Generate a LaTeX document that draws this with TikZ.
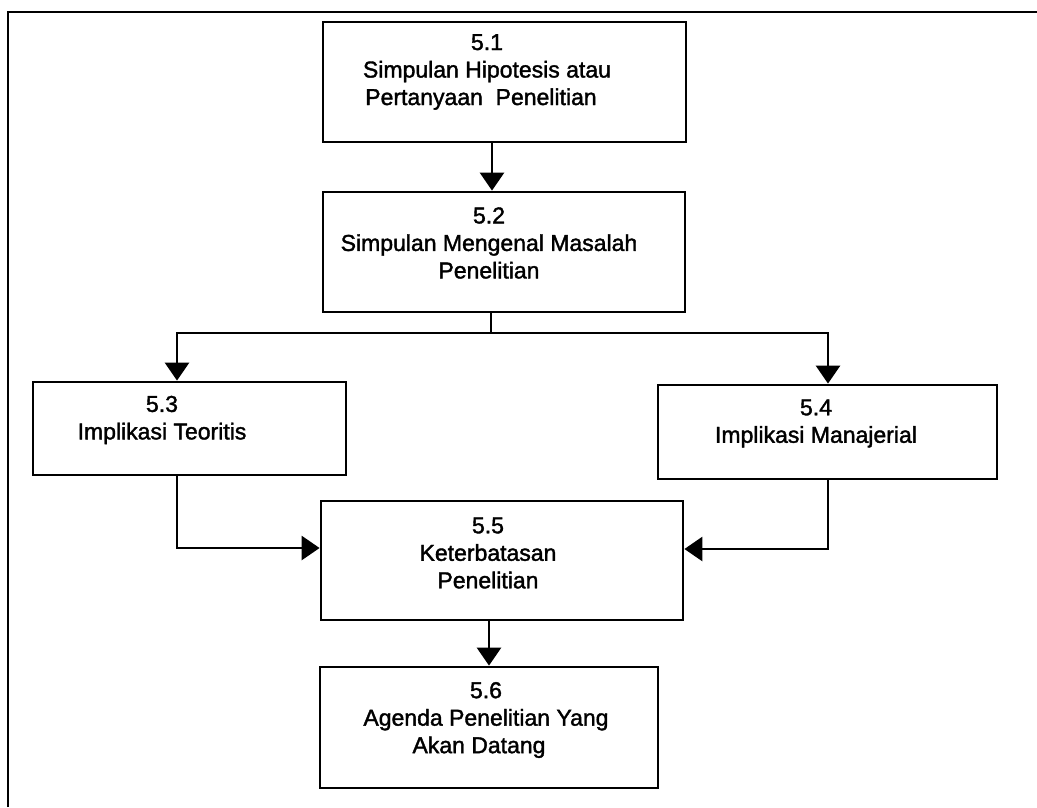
\documentclass[tikz,border=0pt]{standalone}
\usepackage{fontspec}
\setmainfont{Liberation Sans}
\newfontfamily\boxfont{Liberation Sans}[FakeBold=1.6]
\usetikzlibrary{arrows.meta}
\begin{document}
\begin{tikzpicture}[x=1pt,y=-1pt,
  box/.style={draw, line width=2.8pt, inner sep=0pt, minimum width=#1},
  lbl/.style={align=center, inner sep=0pt, font=\boxfont\fontsize{23}{27.5}\selectfont},
  arr/.style={line width=2.8pt, -{Triangle[width=24pt,length=18pt]}},
  conn/.style={line width=2.8pt}]
\useasboundingbox (0,0) rectangle (1037,807);

% frame: top rule and left rule
\draw[line width=2.8pt] (8,807) -- (8,12) -- (1037,12);

% boxes
\node[box=363, minimum height=120] (b1) at (504.5,82) {};
\node[box=362, minimum height=120] (b2) at (504,252) {};
\node[box=313, minimum height=93]  (b3) at (189.5,428.5) {};
\node[box=339, minimum height=94]  (b4) at (827.5,432) {};
\node[box=362, minimum height=119] (b5) at (502,560.5) {};
\node[box=338, minimum height=121] (b6) at (489,727.5) {};

% box texts
\node[lbl] (t1) at (487,72) {5.1\\Simpulan Hipotesis atau\\Pertanyaan\ \ Penelitian\hspace*{12pt}};
\node[lbl] (t2) at (489,243) {5.2\\Simpulan Mengenal Masalah\\Penelitian};
\node[lbl] (t3) at (162,420) {5.3\\Implikasi Teoritis};
\node[lbl] (t4) at (816,423.5) {5.4\\Implikasi Manajerial};
\node[lbl] (t5) at (488,553) {5.5\\Keterbatasan\\Penelitian};
\node[lbl] (t6) at (486,720) {5.6\\Agenda Penelitian Yang\\Akan Datang\hspace*{14pt}};

% helper coordinates for connector lines
\coordinate (x12) at (492,0);
\coordinate (split) at (491,333);
\coordinate (x3) at (177,0);
\coordinate (x4) at (828,0);
\coordinate (in3) at (0,548);
\coordinate (in4) at (0,549);
\coordinate (x56) at (489,0);

% connectors
\draw[arr] (b1.south -| x12) -- (b2.north -| x12);
\draw[conn] (b2.south -| split) -- (split);
\draw[arr] (split) -| (b3.north -| x3);
\draw[arr] (split) -| (b4.north -| x4);
\draw[arr] (b3.south -| x3) |- (b5.west |- in3);
\draw[arr] (b4.south -| x4) |- (b5.east |- in4);
\draw[arr] (b5.south -| x56) -- (b6.north -| x56);
\end{tikzpicture}
\end{document}
